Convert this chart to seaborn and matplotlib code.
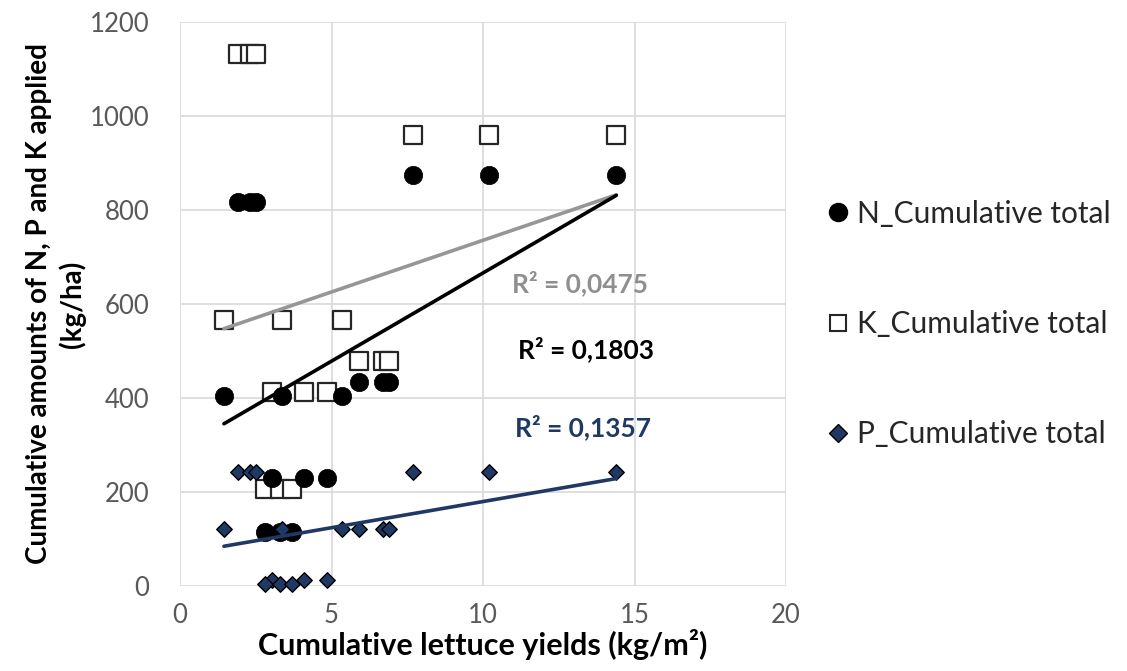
import numpy as np
import pandas as pd
import matplotlib
matplotlib.use("Agg")
import matplotlib.pyplot as plt
from matplotlib.lines import Line2D
import seaborn as sns

# ---- data ----
yields = [1.9, 2.3, 2.5, 7.7, 10.2, 14.4, 1.45, 3.35, 5.35, 5.9, 6.7, 6.9,
          3.05, 4.1, 4.85, 2.8, 3.3, 3.7]
n_total = [816, 816, 816, 875, 875, 875, 405, 405, 405, 435, 435, 435,
           230, 230, 230, 115, 115, 115]
k_total = [1132, 1132, 1132, 960, 960, 960, 567, 567, 567, 478, 478, 478,
           413, 413, 413, 207, 207, 207]
p_total = [243, 243, 243, 243, 243, 243, 122, 122, 122, 122, 122, 122,
           12, 12, 12, 4, 4, 4]
series_labels = ["N_Cumulative total", "K_Cumulative total", "P_Cumulative total"]
r2_labels = ["R² = 0,0475", "R² = 0,1803", "R² = 0,1357"]
x_ticks = [0, 5, 10, 15, 20]
y_ticks = [0, 200, 400, 600, 800, 1000, 1200]

df = pd.DataFrame({"x": yields, "N": n_total, "K": k_total, "P": p_total})

sns.set_style("white")
plt.rcParams["font.family"] = ["Lato", "DejaVu Sans"]

NAVY = "#1f3864"
GREY = "#969696"

fig = plt.figure(figsize=(11.27, 6.71), dpi=100)
ax = fig.add_axes([180 / 1127, 1 - 586 / 671, (786 - 180) / 1127, (586 - 22) / 671])

# scatter series (K below N, P on top)
sns.scatterplot(data=df, x="x", y="K", marker="s", s=150, color="white",
                edgecolor="#262626", linewidth=1.6, ax=ax, zorder=3, clip_on=False)
sns.scatterplot(data=df, x="x", y="N", marker="o", s=175, color="black",
                edgecolor="black", linewidth=0.5, ax=ax, zorder=3, clip_on=False)
sns.scatterplot(data=df, x="x", y="P", marker="D", s=62, color=NAVY,
                edgecolor="black", linewidth=1.0, ax=ax, zorder=3, clip_on=False)

# linear trendlines
sns.regplot(data=df, x="x", y="K", scatter=False, ci=None, truncate=True,
            color=GREY, line_kws={"linewidth": 2.6, "zorder": 4}, ax=ax)
sns.regplot(data=df, x="x", y="N", scatter=False, ci=None, truncate=True,
            color="black", line_kws={"linewidth": 2.6, "zorder": 4}, ax=ax)
sns.regplot(data=df, x="x", y="P", scatter=False, ci=None, truncate=True,
            color=NAVY, line_kws={"linewidth": 2.6, "zorder": 4}, ax=ax)

ax.set_xlim(0, 20)
ax.set_ylim(0, 1200)
ax.set_xticks(x_ticks)
ax.set_yticks(y_ticks)
ax.grid(True, color="#d9d9d9", linewidth=1.2)
ax.set_axisbelow(True)
for sp in ax.spines.values():
    sp.set_visible(False)
ax.tick_params(axis="both", length=0, labelsize=18.5, labelcolor="#595959")
ax.tick_params(axis="y", pad=22)
ax.tick_params(axis="x", pad=12)

ax.set_xlabel("Cumulative lettuce yields (kg/m²)", fontsize=22,
              fontweight="bold", color="black", labelpad=1)
ax.set_ylabel("Cumulative amounts of N, P and K applied\n(kg/ha)", fontsize=20,
              fontweight="bold", color="black", labelpad=3, linespacing=1.25)

# R² annotations
ax.text(13.2, 645, r2_labels[0], color="#8f8f8f", fontsize=19,
        fontweight="bold", ha="center", va="center")
ax.text(13.4, 504, r2_labels[1], color="black", fontsize=19,
        fontweight="bold", ha="center", va="center")
ax.text(13.3, 338, r2_labels[2], color=NAVY, fontsize=19,
        fontweight="bold", ha="center", va="center")

# legend
handles = [
    Line2D([], [], linestyle="none", marker="o", markersize=13,
           markerfacecolor="black", markeredgecolor="black"),
    Line2D([], [], linestyle="none", marker="s", markersize=12,
           markerfacecolor="white", markeredgecolor="#262626", markeredgewidth=1.5),
    Line2D([], [], linestyle="none", marker="D", markersize=9,
           markerfacecolor=NAVY, markeredgecolor="black", markeredgewidth=1.0),
]
fig.legend(handles, series_labels, loc="center left",
           bbox_to_anchor=(814 / 1127, 1 - 324 / 671), frameon=False,
           fontsize=21.5, labelspacing=2.75, handletextpad=0.25, handlelength=0.8,
           borderaxespad=0)

fig.savefig("out.png", dpi=100, facecolor="white")
